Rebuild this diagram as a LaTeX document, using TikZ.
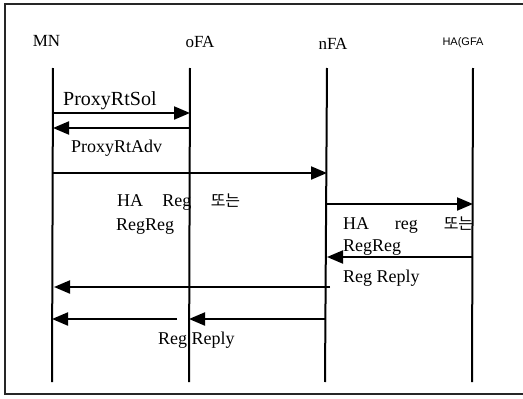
\documentclass[tikz,border=0pt]{standalone}
\usepackage{fontspec}
\setmainfont{Liberation Serif}
\newfontfamily\krfont{Noto Sans CJK KR}
\newfontfamily\hasans{Liberation Sans}
\usetikzlibrary{arrows.meta}
\begin{document}
\begin{tikzpicture}[x=1pt,y=-1pt,
  lifeline/.style={line width=2pt},
  msg/.style={line width=2pt,-{Triangle[length=16pt,width=13pt]}},
  lbl/.style={inner sep=0pt,font=\fontsize{18}{20}\selectfont},
  hdr/.style={inner sep=0pt,anchor=base,font=\fontsize{17}{19}\selectfont}]
\useasboundingbox (0,0) rectangle (523,399);
\fill[white] (0,0) rectangle (523,399);
% frame
\draw[line width=1.5pt,black!85] (523,4) -- (5,4) -- (5,394) -- (523,394);
% headers
\node[hdr] (hMN) at (46.5,46) {MN};
\node[hdr] (hoFA) at (200,47) {oFA};
\node[hdr] (hnFA) at (333,49) {nFA};
\node[inner sep=0pt,anchor=base,font=\hasans\fontsize{11}{13}\selectfont] (hHA) at (463,45) {HA(GFA};
% lifelines
\coordinate (MNt) at (53,68); \coordinate (MNb) at (52,382);
\coordinate (oFAt) at (190,68); \coordinate (oFAb) at (189,382);
\coordinate (nFAt) at (327,68); \coordinate (nFAb) at (325,382);
\coordinate (HAt) at (473,68); \coordinate (HAb) at (472,382);
\draw[lifeline] (MNt) -- (MNb);
\draw[lifeline] (oFAt) -- (oFAb);
\draw[lifeline] (nFAt) -- (nFAb);
\draw[lifeline] (HAt) -- (HAb);
% messages
\coordinate (a1s) at (53,113); \coordinate (a1e) at (190,113);
\draw[msg] (a1s) -- (a1e);
\node[lbl,anchor=base west,font=\fontsize{20}{22}\selectfont] (l1) at (63,105) {ProxyRtSol};
\coordinate (a2s) at (190,128); \coordinate (a2e) at (53,128);
\draw[msg] (a2s) -- (a2e);
\node[lbl,anchor=base west] (l2) at (71,152) {ProxyRtAdv};
\coordinate (a3s) at (52,173); \coordinate (a3e) at (327,173);
\draw[msg] (a3s) -- (a3e);
\node[lbl,anchor=base west] (l3) at (117,206) {\makebox[123pt][s]{HA Reg {\krfont\fontsize{16}{18}\selectfont 또는}}};
\node[lbl,anchor=base west] (l3b) at (116,230) {RegReg};
\coordinate (a4s) at (327,204); \coordinate (a4e) at (473,204);
\draw[msg] (a4s) -- (a4e);
\node[lbl,anchor=base west] (l4) at (343,229) {\makebox[130pt][s]{HA reg {\krfont\fontsize{16}{18}\selectfont 또는}}};
\node[lbl,anchor=base west] (l4b) at (343,251) {RegReg};
\coordinate (a5s) at (473,257); \coordinate (a5e) at (327,257);
\draw[msg] (a5s) -- (a5e);
\node[lbl,anchor=base west] (l5) at (343,282) {Reg Reply};
\coordinate (a6s) at (330,287); \coordinate (a6e) at (54,287);
\draw[msg] (a6s) -- (a6e);
\coordinate (a7s) at (325,319); \coordinate (a7e) at (189,319);
\draw[msg] (a7s) -- (a7e);
\coordinate (a8s) at (177,319); \coordinate (a8e) at (52,319);
\draw[msg] (a8s) -- (a8e);
\node[lbl,anchor=base west] (l7) at (158,344) {Reg Reply};
\end{tikzpicture}
\end{document}
